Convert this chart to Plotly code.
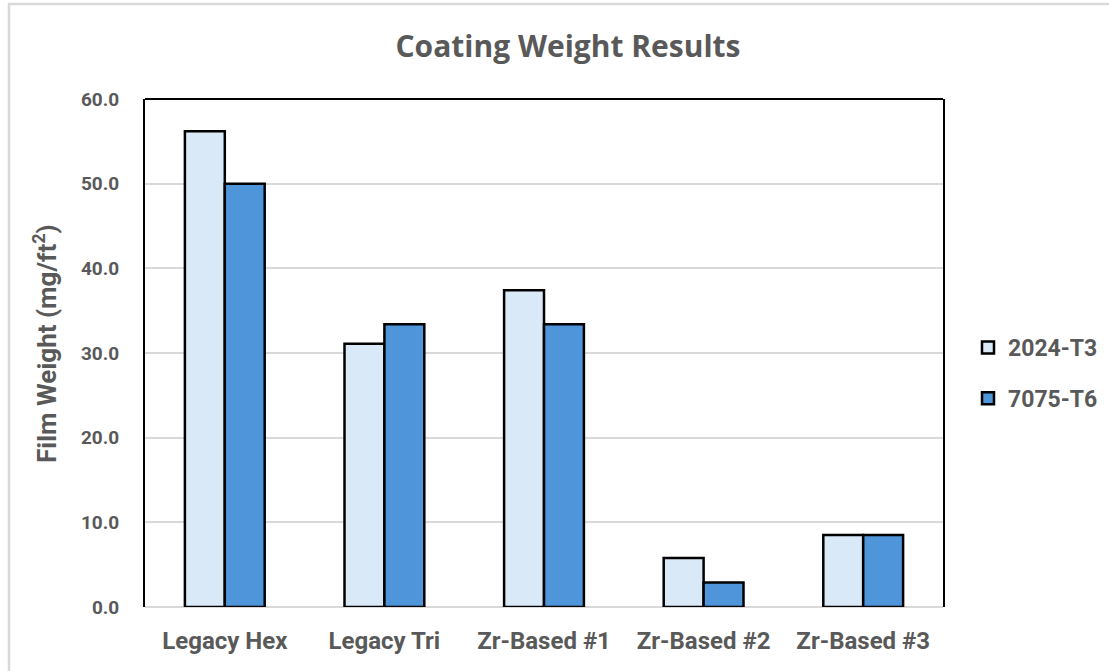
import plotly.graph_objects as go

categories = ["Legacy Hex", "Legacy Tri", "Zr-Based #1", "Zr-Based #2", "Zr-Based #3"]
series_names = ["2024-T3", "7075-T6"]
vals_2024 = [56.2, 31.1, 37.4, 5.8, 8.5]
vals_7075 = [50.0, 33.4, 33.4, 2.9, 8.5]
colors = ["#DAE9F8", "#4E95D9"]

W, H = 1109, 671
L, R, T, B = 145, 166, 99, 64
pw, ph = W - L - R, H - T - B

fig = go.Figure()
for i, (name, vals, col) in enumerate(zip(series_names, [vals_2024, vals_7075], colors)):
    fig.add_trace(go.Bar(
        x=categories, y=vals, name=name, legendgroup=f"g{i}",
        marker=dict(color=col, line=dict(color="black", width=2.5)),
    ))

gray = "#595959"
fig.update_layout(
    width=W, height=H,
    margin=dict(l=L, r=R, t=T, b=B, autoexpand=False),
    paper_bgcolor="white", plot_bgcolor="white",
    barmode="group", bargap=0.5, bargroupgap=0,
    title=dict(text="<b>Coating Weight Results</b>", x=568 / W, xanchor="center",
               y=1 - 46 / H, yanchor="middle", automargin=False,
               font=dict(family="Open Sans", size=30, color=gray)),
    font=dict(family="Roboto", color=gray),
    legend=dict(x=(968 - L) / pw, xanchor="left", y=(H - B - 373) / ph, yanchor="middle",
                font=dict(family="Roboto", size=23, color=gray, weight="bold"),
                tracegroupgap=18, bgcolor="rgba(0,0,0,0)", traceorder="grouped"),
    showlegend=True,
)
fig.update_xaxes(
    showline=False, showgrid=False, ticks="",
    tickfont=dict(family="Roboto", size=24, color=gray, weight="bold"),
    ticklabelstandoff=17,
)
fig.update_yaxes(
    range=[0, 60], dtick=10, tickformat=".1f",
    showgrid=True, gridcolor="#D9D9D9", gridwidth=1.5,
    zeroline=True, zerolinecolor="#D9D9D9", zerolinewidth=2,
    showline=True, linecolor="black", linewidth=2, mirror=True,
    tickfont=dict(family="Roboto", size=19, color=gray, weight="bold"),
    ticklabelstandoff=20,
)

# y-axis title
fig.add_annotation(
    text="<b>Film Weight (mg/ft<sup>2</sup>)</b>", textangle=-90,
    xref="paper", yref="paper", x=(45 - L) / pw, y=(H - B - 344) / ph,
    xanchor="center", yanchor="middle", showarrow=False,
    font=dict(family="Roboto", size=26, color=gray),
)

# top border of plot area
fig.add_shape(type="line", xref="paper", yref="paper", x0=0, x1=1, y0=1, y1=1,
              line=dict(color="black", width=2))
# outer chart frame (light gray)
fx0 = (9 - L) / pw
fy1 = (H - B - 4) / ph
fig.add_shape(type="rect", xref="paper", yref="paper", x0=fx0, x1=1.5, y0=-0.5, y1=fy1,
              line=dict(color="#D9D9D9", width=2.5), layer="below")

fig.write_html("out.html", config={"displayModeBar": False},
               post_script="document.body.style.margin='0';")
